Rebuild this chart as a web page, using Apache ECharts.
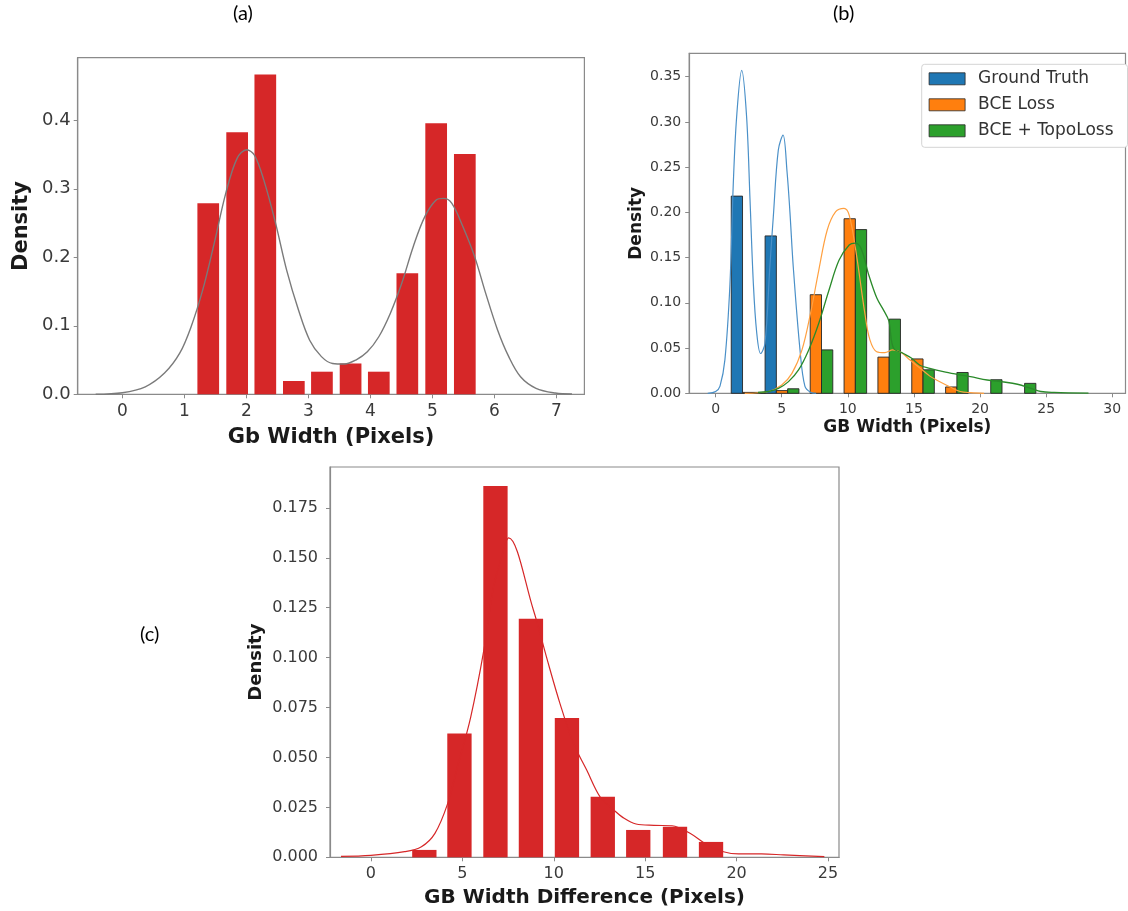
<!DOCTYPE html>
<html><head><meta charset="utf-8">
<script src="https://cdn.jsdelivr.net/npm/echarts@6/dist/echarts.min.js"></script>
<style>html,body{margin:0;padding:0;background:#fff}#c{width:1128px;height:911px}</style>
</head><body><div id="c"></div>
<script>
// ---------- Panel (a) ----------
const aBinCenters = [1.385, 1.851, 2.305, 2.765, 3.218, 3.68, 4.135, 4.595, 5.06, 5.522];
const aDensity    = [0.279, 0.3825, 0.467, 0.0194, 0.033, 0.045, 0.033, 0.1766, 0.3956, 0.3508];
const aKdeX = [-0.43, 0, 0.37, 0.68, 0.925, 1.11, 1.295, 1.48, 1.666, 1.85, 2.005, 2.13, 2.28, 2.47, 2.65, 2.84, 3.02, 3.21, 3.39, 3.58, 3.765, 3.95, 4.135, 4.32, 4.505, 4.69, 4.875, 5.06, 5.18, 5.31, 5.49, 5.68, 5.86, 6.05, 6.23, 6.42, 6.67, 6.98, 7.25];
const aKdeY = [0, 0.0023, 0.011, 0.031, 0.06, 0.099, 0.152, 0.22, 0.293, 0.3445, 0.357, 0.349, 0.313, 0.25, 0.181, 0.123, 0.079, 0.055, 0.045, 0.0442, 0.05, 0.062, 0.084, 0.118, 0.162, 0.2155, 0.259, 0.2836, 0.286, 0.279, 0.245, 0.201, 0.147, 0.094, 0.055, 0.0257, 0.0088, 0.0019, 0.0005];
const aXTicks = [0, 1, 2, 3, 4, 5, 6, 7];
const aYTicks = [0, 0.1, 0.2, 0.3, 0.4];

// ---------- Panel (b) ----------
const bBinLeft = [1.18, 3.74, 6.30, 8.86, 11.42, 13.98, 16.54, 19.10, 21.66];
const bBinWidth = 2.56;
const bGroundTruth = [0.218, 0.174, 0, 0, 0, 0, 0, 0, 0];
const bBCE         = [0.001, 0.003, 0.109, 0.193, 0.040, 0.038, 0.007, 0, 0];
const bBCETopo     = [0.001, 0.005, 0.048, 0.181, 0.082, 0.026, 0.023, 0.015, 0.011];
const bGtKdeX = [-0.6, 0.0, 0.33, 0.7, 1.08, 1.33, 1.59, 1.97, 2.34, 2.6, 2.85, 3.1, 3.4, 3.73, 4.1, 4.36, 4.74, 5.1, 5.4, 5.62, 5.87, 6.38, 6.75, 7.2, 7.6];
const bGtKdeY = [0, 0.002, 0.008, 0.037, 0.12, 0.23, 0.306, 0.357, 0.306, 0.214, 0.122, 0.068, 0.044, 0.055, 0.14, 0.195, 0.269, 0.2855, 0.245, 0.2, 0.14, 0.048, 0.008, 0.001, 0];
const bBceKdeX = [2.2, 3.99, 5.0, 5.77, 6.53, 7.17, 7.8, 8.44, 9.08, 9.71, 10.1, 10.6, 11.29, 11.67, 12.18, 12.8, 13.4, 14.04, 14.68, 15.45, 16.2, 16.7, 17.7, 18.5, 19.3, 20.3];
const bBceKdeY = [0, 0.002, 0.0092, 0.022, 0.048, 0.088, 0.136, 0.1805, 0.2008, 0.2045, 0.197, 0.158, 0.088, 0.059, 0.046, 0.045, 0.048, 0.045, 0.037, 0.028, 0.019, 0.0147, 0.0073, 0.002, 0.0007, 0];
const bTopoKdeX = [3.2, 3.99, 4.75, 5.51, 6.27, 7.04, 7.8, 8.57, 9.33, 10.1, 10.55, 11.0, 11.6, 12.2, 12.7, 13.1, 13.45, 14.2, 14.8, 15.45, 16.2, 17.22, 18.24, 19.27, 20.54, 21.81, 22.83, 23.85, 24.6, 25.6, 28.2];
const bTopoKdeY = [0.001, 0.002, 0.0055, 0.0129, 0.0258, 0.048, 0.0774, 0.114, 0.147, 0.164, 0.166, 0.16, 0.13, 0.105, 0.092, 0.08, 0.05, 0.044, 0.039, 0.031, 0.0276, 0.0239, 0.021, 0.0184, 0.0147, 0.0125, 0.01, 0.0055, 0.002, 0.001, 0.0002];
const bXTicks = [0, 5, 10, 15, 20, 25, 30];
const bYTicks = [0, 0.05, 0.10, 0.15, 0.20, 0.25, 0.30, 0.35];
const bSeriesNames = ['Ground Truth', 'BCE Loss', 'BCE + TopoLoss'];

// ---------- Panel (c) ----------
const cBinCenters = [2.92, 4.84, 6.81, 8.75, 10.72, 12.68, 14.62, 16.63, 18.6];
const cDensity    = [0.0037, 0.062, 0.186, 0.1195, 0.0698, 0.0303, 0.0137, 0.0153, 0.0077];
const cKdeX = [-1.64, 0, 1.84, 2.76, 3.5, 4.2, 4.72, 5.45, 6.18, 6.67, 7.1, 7.53, 8.88, 9.61, 10.34, 11.08, 11.8, 12.55, 13.28, 13.77, 14.5, 15.48, 16.47, 17.45, 18.42, 19.28, 20.1, 21.36, 22.58, 24.8];
const cKdeY = [0.0005, 0.001, 0.0028, 0.0053, 0.012, 0.027, 0.045, 0.07, 0.104, 0.134, 0.149, 0.160, 0.124, 0.100, 0.077, 0.057, 0.0437, 0.030, 0.0237, 0.020, 0.0167, 0.016, 0.0158, 0.012, 0.006, 0.0028, 0.0017, 0.0017, 0.0012, 0.0003];
const cXTicks = [0, 5, 10, 15, 20, 25];
const cYTicks = [0, 0.025, 0.05, 0.075, 0.1, 0.125, 0.15, 0.175];

// ---------- styles ----------
const RED = '#d62728';
const BLUE = '#1f77b4', ORANGE = '#ff7f0e', GREEN = '#2ca02c';
const SPINE = '#8a8a8a';
const FONT = 'DejaVu Sans';

const chart = echarts.init(document.getElementById('c'), null, {renderer: 'canvas'});

function zip(xs, ys) { return xs.map((x, i) => [x, ys[i]]); }

function histCentered(idx, centers, heights, barW, color) {
  return {
    type: 'custom', xAxisIndex: idx, yAxisIndex: idx, z: 2,
    encode: {x: 0, y: 1},
    data: zip(centers, heights),
    renderItem: (params, api) => {
      const x = api.value(0), h = api.value(1);
      const p0 = api.coord([x - barW / 2, 0]);
      const p1 = api.coord([x + barW / 2, h]);
      return {type: 'rect', shape: {x: p0[0], y: p1[1], width: p1[0] - p0[0], height: p0[1] - p1[1]},
              style: {fill: color}};
    }
  };
}

function histDodge(idx, name, lefts, heights, slot, color) {
  return {
    type: 'custom', name: name, xAxisIndex: idx, yAxisIndex: idx, z: 2,
    itemStyle: {color: color},
    encode: {x: 0, y: 1},
    data: zip(lefts, heights),
    renderItem: (params, api) => {
      const l = api.value(0), h = api.value(1);
      if (h <= 0) return null;
      const w = bBinWidth / 3;
      const p0 = api.coord([l + slot * w, 0]);
      const p1 = api.coord([l + (slot + 1) * w, h]);
      return {type: 'rect', shape: {x: p0[0], y: p1[1], width: p1[0] - p0[0], height: Math.max(1, p0[1] - p1[1])},
              style: {fill: color, stroke: '#262626', lineWidth: 0.9}};
    }
  };
}

function kde(idx, xs, ys, color, w) {
  return {type: 'line', xAxisIndex: idx, yAxisIndex: idx, data: zip(xs, ys), showSymbol: false,
          smooth: 0.35, z: 3, lineStyle: {color: color, width: w || 1.3}, silent: true};
}

function xAxisOf(idx, min, max, ticks, fs, margin, name, nameGap, nameFs) {
  return {
    type: 'value', gridIndex: idx, min: min, max: max,
    splitLine: {show: false},
    axisLine: {show: true, onZero: false, lineStyle: {color: SPINE, width: 1.2}},
    axisTick: {show: true, length: 4, lineStyle: {color: SPINE}, customValues: ticks},
    axisLabel: {customValues: ticks, fontFamily: FONT, fontSize: fs, color: '#3a3a3a', margin: margin},
    name: name, nameLocation: 'middle', nameGap: nameGap,
    nameTextStyle: {fontFamily: FONT, fontWeight: 'bold', fontSize: nameFs, color: '#1a1a1a'}
  };
}
function yAxisOf(idx, min, max, ticks, fs, margin, digits, nameGap, nameFs) {
  return {
    type: 'value', gridIndex: idx, min: min, max: max,
    splitLine: {show: false},
    axisLine: {show: true, onZero: false, lineStyle: {color: SPINE, width: 1.2}},
    axisTick: {show: true, length: 4, lineStyle: {color: SPINE}, customValues: ticks},
    axisLabel: {customValues: ticks, fontFamily: FONT, fontSize: fs, color: '#3a3a3a', margin: margin,
                formatter: v => Number(v).toFixed(digits)},
    name: 'Density', nameLocation: 'middle', nameGap: nameGap, nameRotate: 90,
    nameTextStyle: {fontFamily: FONT, fontWeight: 'bold', fontSize: nameFs, color: '#1a1a1a'}
  };
}

const option = {
  backgroundColor: '#fff',
  animation: false,
  grid: [
    {left: 77.7, top: 57.7, width: 506.7, height: 336.6, show: true, borderColor: SPINE, borderWidth: 1.2, containLabel: false},
    {left: 689.2, top: 53.3, width: 436.3, height: 340, show: true, borderColor: SPINE, borderWidth: 1.2, containLabel: false},
    {left: 330, top: 467, width: 509, height: 390.3, show: true, borderColor: SPINE, borderWidth: 1.2, containLabel: false}
  ],
  xAxis: [
    xAxisOf(0, -0.72, 7.45, aXTicks, 17, 9, 'Gb Width (Pixels)', 33, 21),
    xAxisOf(1, -2.0, 31.0, bXTicks, 14, 9, 'GB Width (Pixels)', 26, 17),
    xAxisOf(2, -2.24, 25.6, cXTicks, 16, 9, 'GB Width Difference (Pixels)', 30, 20)
  ],
  yAxis: [
    yAxisOf(0, 0, 0.4914, aYTicks, 18, 7, 1, 46, 21),
    yAxisOf(1, 0, 0.3759, bYTicks, 14, 8, 2, 44, 17),
    yAxisOf(2, 0, 0.1955, cYTicks, 16, 12, 3, 65, 18)
  ],
  legend: {
    show: true, orient: 'vertical', left: 921.7, top: 64.3,
    data: bSeriesNames, icon: 'rect', itemWidth: 36, itemHeight: 12, itemGap: 9,
    backgroundColor: '#fff', borderColor: '#d4d4d4', borderWidth: 1, borderRadius: 3,
    padding: [6, 14, 8, 7],
    textStyle: {fontFamily: FONT, fontSize: 17, color: '#333', padding: [0, 0, 0, 8]},
    itemStyle: {borderColor: '#262626', borderWidth: 0.8},
    selectedMode: false
  },
  series: [
    histCentered(0, aBinCenters, aDensity, 0.35, RED),
    kde(0, aKdeX, aKdeY, '#7a7a7a', 1.4),
    histDodge(1, bSeriesNames[0], bBinLeft, bGroundTruth, 0, BLUE),
    histDodge(1, bSeriesNames[1], bBinLeft, bBCE, 1, ORANGE),
    histDodge(1, bSeriesNames[2], bBinLeft, bBCETopo, 2, GREEN),
    kde(1, bGtKdeX, bGtKdeY, '#4a90c8', 1.2),
    kde(1, bBceKdeX, bBceKdeY, '#ffa040', 1.2),
    kde(1, bTopoKdeX, bTopoKdeY, '#2a8a2a', 1.3),
    histCentered(2, cBinCenters, cDensity, 1.33, RED),
    kde(2, cKdeX, cKdeY, RED, 1.2)
  ],
  graphic: [
    {type: 'text', left: 233, top: 4, style: {text: '(a)', font: '20px Lato', fill: '#000'}},
    {type: 'text', left: 833, top: 4, style: {text: '(b)', font: '20px Lato', fill: '#000'}},
    {type: 'text', left: 140, top: 625, style: {text: '(c)', font: '20px Lato', fill: '#000'}}
  ]
};
chart.setOption(option);
</script></body></html>
